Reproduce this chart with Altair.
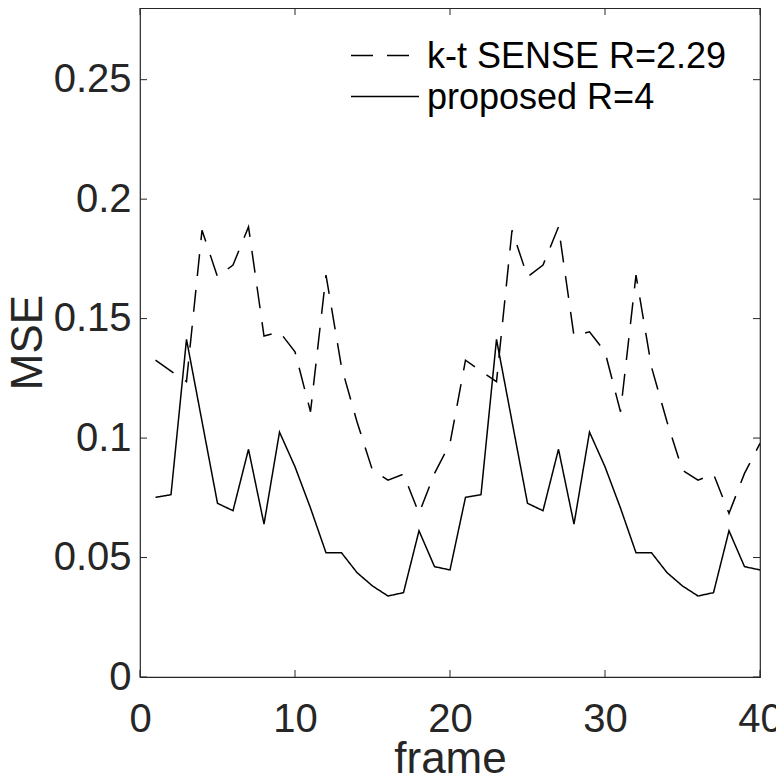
import altair as alt
import pandas as pd

# ---- data ----
frames = list(range(1, 41))
kt_sense = [0.1326, 0.1280, 0.1236, 0.1870, 0.1675, 0.1724, 0.1884, 0.1427, 0.1445, 0.1361,
            0.1110, 0.1682, 0.1297, 0.1068, 0.0865, 0.0824, 0.0849, 0.0685, 0.0852, 0.0978,
            0.1326, 0.1280, 0.1236, 0.1870, 0.1675, 0.1724, 0.1884, 0.1427, 0.1445, 0.1361,
            0.1110, 0.1682, 0.1297, 0.1068, 0.0865, 0.0824, 0.0849, 0.0685, 0.0852, 0.0978]
proposed = [0.0752, 0.0763, 0.1413, 0.1070, 0.0727, 0.0696, 0.0953, 0.0640, 0.1025, 0.0880,
            0.0707, 0.0520, 0.0520, 0.0437, 0.0381, 0.0339, 0.0353, 0.0612, 0.0462, 0.0448,
            0.0752, 0.0763, 0.1413, 0.1070, 0.0727, 0.0696, 0.0953, 0.0640, 0.1025, 0.0880,
            0.0707, 0.0520, 0.0520, 0.0437, 0.0381, 0.0339, 0.0353, 0.0612, 0.0462, 0.0448]
series_names = ["k-t SENSE R=2.29", "proposed R=4"]
x_ticks = [0, 10, 20, 30, 40]
y_ticks = [0, 0.05, 0.1, 0.15, 0.2, 0.25]

W, H = 620, 669
FONT = "Liberation Sans"
AX = "#262626"
DASH = [22, 14]

df = pd.DataFrame({
    "frame": frames + frames,
    "mse": kt_sense + proposed,
    "series": [series_names[0]] * len(frames) + [series_names[1]] * len(frames),
})

xscale = alt.Scale(domain=[0, 40], nice=False, zero=False)
yscale = alt.Scale(domain=[0, 0.28], nice=False)

lines = alt.Chart(df).mark_line(color="black", strokeWidth=1.5, clip=True).encode(
    x=alt.X("frame:Q", scale=xscale,
            axis=alt.Axis(values=x_ticks, title="frame", grid=False, domain=False,
                          ticks=False, tickSize=0, labelFontSize=40, labelFont=FONT,
                          labelColor=AX, labelBaseline="alphabetic", labelPadding=54,
                          labelFlush=False, titleFontSize=44, titleFont=FONT,
                          titleFontWeight="normal", titleColor=AX,
                          titleBaseline="alphabetic", titleY=95, titleX=W / 2)),
    y=alt.Y("mse:Q", scale=yscale,
            axis=alt.Axis(values=y_ticks, format="~g", title="MSE", grid=False,
                          domain=False, ticks=False, tickSize=0, labelFontSize=40,
                          labelFont=FONT, labelColor=AX, labelPadding=9,
                          labelFlush=False, titleFontSize=44, titleFont=FONT,
                          titleFontWeight="normal", titleColor=AX, titleAngle=270,
                          titleBaseline="alphabetic", titleX=-99, titleY=334)),
    strokeDash=alt.StrokeDash("series:N",
                              scale=alt.Scale(domain=series_names, range=[DASH, [1, 0]]),
                              legend=None),
    detail="series:N",
)

# inward ticks on all four sides
xt = pd.DataFrame({"frame": x_ticks})
yt = pd.DataFrame({"mse": y_ticks})
TL = 7
tick_b = alt.Chart(xt).mark_rule(color=AX, strokeWidth=1).encode(
    x=alt.X("frame:Q"), y=alt.value(H), y2=alt.value(H - TL))
tick_t = alt.Chart(xt).mark_rule(color=AX, strokeWidth=1).encode(
    x=alt.X("frame:Q"), y=alt.value(0), y2=alt.value(TL))
tick_l = alt.Chart(yt).mark_rule(color=AX, strokeWidth=1).encode(
    y=alt.Y("mse:Q"), x=alt.value(0), x2=alt.value(TL))
tick_r = alt.Chart(yt).mark_rule(color=AX, strokeWidth=1).encode(
    y=alt.Y("mse:Q"), x=alt.value(W - TL), x2=alt.value(W))

# legend (MATLAB style, no box)
leg_layers = []
leg_y = [47.5, 88.5]
dashes = [DASH, [1, 0]]
for name, yy, dsh in zip(series_names, leg_y, dashes):
    d = alt.Data(values=[{"name": name}])
    leg_layers.append(alt.Chart(d).mark_rule(color="black", strokeWidth=1.5, strokeDash=dsh).encode(
        x=alt.value(211), x2=alt.value(279), y=alt.value(yy)))
    leg_layers.append(alt.Chart(d).mark_text(font=FONT, fontSize=36, color="black",
                                             align="left", baseline="middle").encode(
        x=alt.value(287), y=alt.value(yy + 1), text="name:N"))

chart = alt.layer(lines, tick_b, tick_t, tick_l, tick_r, *leg_layers).properties(
    width=W, height=H,
    autosize=alt.AutoSizeParams(type="none"),
    padding={"left": 132, "top": 0, "right": 16, "bottom": 97},
    background="white",
).configure_view(stroke=AX, strokeWidth=1.2)

chart.save("out.html", embed_options={"renderer": "svg", "actions": False})
